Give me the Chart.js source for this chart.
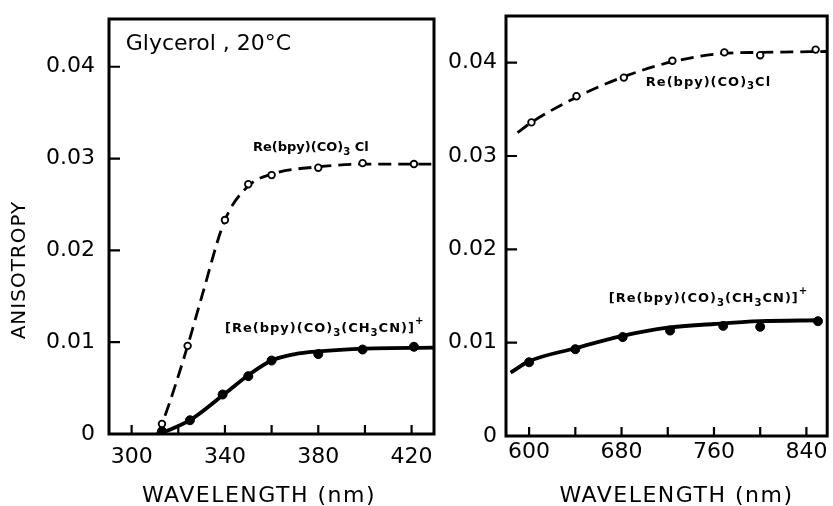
<!DOCTYPE html>
<html>
<head>
<meta charset="utf-8">
<script src="https://cdn.jsdelivr.net/npm/chart.js@4.4.1/dist/chart.umd.min.js"></script>
<style>
  html, body { margin: 0; padding: 0; background: #fff; }
  #wrap { position: relative; width: 833px; height: 506px; }
  #leftBox { position: absolute; left: 0; top: 0; width: 445px; height: 506px; }
  #rightBox { position: absolute; left: 445px; top: 0; width: 388px; height: 506px; }
</style>
</head>
<body>
<div id="wrap">
  <div id="leftBox"><canvas id="leftChart"></canvas></div>
  <div id="rightBox"><canvas id="rightChart"></canvas></div>
</div>
<script>
// ---- axis ticks ----
const uvTicks = [300, 320, 340, 360, 380, 400, 420];
const uvTickLabels = ["300", "", "340", "", "380", "", "420"];
const redTicks = [600, 640, 680, 720, 760, 800, 840];
const redTickLabels = ["600", "", "680", "", "760", "", "840"];
const anisoTicks = [0, 0.01, 0.02, 0.03, 0.04];
const anisoTickLabels = ["0", "0.01", "0.02", "0.03", "0.04"];

// ---- left panel (UV excitation), Re(bpy)(CO)3Cl, open circles ----
const uvClWl = [313, 324, 340, 350, 360, 380, 399, 421];
const uvClAniso = [0.0011, 0.0096, 0.0233, 0.0272, 0.0282, 0.0290, 0.0295, 0.0294];
// dashed fit curve
const uvClCurveWl = [311, 313, 324, 330, 340, 350, 360, 380, 400, 430];
const uvClCurve = [0, 0.0011, 0.0096, 0.0149, 0.0233, 0.0270, 0.0283, 0.0291, 0.0294, 0.0294];

// ---- left panel, [Re(bpy)(CO)3(CH3CN)]+, filled circles ----
const uvCnWl = [313, 325, 339, 350, 360, 380, 399, 421];
const uvCnAniso = [0.0003, 0.0015, 0.0043, 0.0063, 0.0080, 0.0087, 0.0092, 0.0095];
const uvCnCurveWl = [312, 325, 340, 350, 360, 370, 380, 400, 430];
const uvCnCurve = [0, 0.0015, 0.0044, 0.0064, 0.0080, 0.0087, 0.0090, 0.0093, 0.0094];

// ---- right panel (red edge), Re(bpy)(CO)3Cl ----
const redClWl = [602, 641, 682, 724, 769, 800, 848];
const redClAniso = [0.0336, 0.0364, 0.0384, 0.0402, 0.0411, 0.0408, 0.0414];
const redClCurveWl = [590, 602, 641, 682, 724, 769, 800, 858];
const redClCurve = [0.0325, 0.0336, 0.0363, 0.0385, 0.0401, 0.0410, 0.0411, 0.0412];

// ---- right panel, [Re(bpy)(CO)3(CH3CN)]+ ----
const redCnWl = [600, 640, 681, 722, 768, 800, 850];
const redCnAniso = [0.0079, 0.0093, 0.0106, 0.0113, 0.0118, 0.0117, 0.0123];
const redCnCurveWl = [584, 600, 640, 680, 720, 760, 800, 850];
const redCnCurve = [0.0068, 0.0080, 0.0094, 0.0107, 0.0116, 0.0120, 0.0123, 0.0124];

const FONT = "'DejaVu Sans', sans-serif";
const pts = (xs, ys) => xs.map((x, i) => ({ x: x, y: ys[i] }));

// frame, inward tick marks, axis titles and the labels on the curves
const decorPlugin = {
  id: "decor",
  afterDraw(chart, args, opts) {
    const { ctx, chartArea: a, scales } = chart;
    ctx.save();
    ctx.strokeStyle = "#000";
    ctx.fillStyle = "#000";
    ctx.lineWidth = 3;
    ctx.strokeRect(a.left, a.top, a.right - a.left, a.bottom - a.top);

    ctx.lineWidth = 2.2;
    ctx.beginPath();
    scales.x.ticks.forEach(t => {
      const px = scales.x.getPixelForValue(t.value);
      ctx.moveTo(px, a.bottom);
      ctx.lineTo(px, a.bottom - 9);
    });
    scales.y.ticks.forEach(t => {
      const py = scales.y.getPixelForValue(t.value);
      ctx.moveTo(a.left, py);
      ctx.lineTo(a.left + 11, py);
    });
    ctx.stroke();

    ctx.textBaseline = "middle";
    (opts.titles || []).forEach(t => {
      ctx.save();
      ctx.font = `${t.size}px ${FONT}`;
      ctx.letterSpacing = t.spacing + "px";
      ctx.textAlign = "center";
      ctx.translate(t.x, t.y);
      ctx.rotate(t.rotate || 0);
      ctx.fillText(t.text, 0, 0);
      ctx.restore();
    });

    (opts.notes || []).forEach(n => {
      let cx = scales.x.getPixelForValue(n.x);
      const cy = scales.y.getPixelForValue(n.y);
      ctx.textAlign = "left";
      n.parts.forEach(p => {
        const kind = p[1] || "";
        const fs = kind ? n.size * 0.78 : n.size;
        const dy = kind === "sub" ? n.size * 0.35 : kind === "sup" ? -n.size * 0.55 : 0;
        ctx.font = `${n.weight} ${fs}px ${FONT}`;
        ctx.letterSpacing = n.spacing + "px";
        ctx.fillText(p[0], cx, cy + dy);
        cx += ctx.measureText(p[0]).width;
      });
    });
    ctx.restore();
  }
};

function lineSet(xs, ys, dashed) {
  return {
    data: pts(xs, ys),
    showLine: true,
    borderColor: "#000",
    borderWidth: dashed ? 2.8 : 3.8,
    borderDash: dashed ? [13, 7] : [],
    pointRadius: 0,
    cubicInterpolationMode: "monotone",
    order: 2
  };
}

function markerSet(xs, ys, open) {
  return {
    data: pts(xs, ys),
    showLine: false,
    pointStyle: "circle",
    pointRadius: open ? 3.3 : 4.5,
    pointBorderWidth: open ? 1.8 : 1,
    pointBorderColor: "#000",
    pointBackgroundColor: open ? "#fff" : "#000",
    order: 1
  };
}

function makeChart(id, cfg) {
  return new Chart(document.getElementById(id), {
    type: "scatter",
    data: { datasets: cfg.datasets },
    options: {
      responsive: true,
      maintainAspectRatio: false,
      animation: false,
      devicePixelRatio: 1,
      events: [],
      layout: { padding: cfg.padding },
      plugins: {
        legend: { display: false },
        tooltip: { enabled: false },
        decor: { titles: cfg.titles, notes: cfg.notes }
      },
      scales: {
        x: {
          type: "linear",
          min: cfg.xMin,
          max: cfg.xMax,
          grid: { display: false, drawTicks: false },
          border: { display: false },
          afterBuildTicks: s => { s.ticks = cfg.xTicks.map(v => ({ value: v })); },
          ticks: {
            autoSkip: false,
            maxRotation: 0,
            color: "#000",
            padding: cfg.xLabelPad,
            font: { family: FONT, size: 22 },
            callback: (v, i) => cfg.xTickLabels[i]
          },
          afterFit: s => {
            s.height = cfg.xAxisHeight;
            s.paddingLeft = s.paddingRight = s.paddingTop = s.paddingBottom = 0;
          }
        },
        y: {
          type: "linear",
          min: 0,
          max: cfg.yMax,
          grid: { display: false, drawTicks: false },
          border: { display: false },
          afterBuildTicks: s => { s.ticks = anisoTicks.map(v => ({ value: v })); },
          ticks: {
            color: "#000",
            padding: cfg.yLabelPad,
            font: { family: FONT, size: 22 },
            callback: (v, i) => anisoTickLabels[i]
          },
          afterFit: s => {
            s.width = cfg.yAxisWidth;
            s.paddingLeft = s.paddingRight = s.paddingTop = s.paddingBottom = 0;
          }
        }
      }
    },
    plugins: [decorPlugin]
  });
}

const cnParts = [["[Re(bpy)(CO)"], ["3", "sub"], ["(CH"], ["3", "sub"], ["CN)]"], ["+", "sup"]];

makeChart("leftChart", {
  xMin: 290.3, xMax: 429.6, yMax: 0.0452,
  xTicks: uvTicks, xTickLabels: uvTickLabels,
  padding: { left: 0, top: 19, right: 11, bottom: 0 },
  yAxisWidth: 109, xAxisHeight: 72, xLabelPad: 10, yLabelPad: 14,
  datasets: [
    markerSet(uvClWl, uvClAniso, true),
    markerSet(uvCnWl, uvCnAniso, false),
    lineSet(uvClCurveWl, uvClCurve, true),
    lineSet(uvCnCurveWl, uvCnCurve, false)
  ],
  titles: [
    { text: "WAVELENGTH (nm)", x: 259, y: 496, size: 22, spacing: 1.5 },
    { text: "ANISOTROPY", x: 20, y: 270, size: 20, spacing: 1, rotate: -Math.PI / 2 }
  ],
  notes: [
    { x: 297.5, y: 0.0425, size: 22, weight: "normal", spacing: 0, parts: [["Glycerol , 20°C"]] },
    { x: 352, y: 0.0312, size: 13, weight: "bold", spacing: 0, parts: [["Re(bpy)(CO)"], ["3", "sub"], [" Cl"]] },
    { x: 340, y: 0.0115, size: 13, weight: "bold", spacing: 1, parts: cnParts }
  ]
});

makeChart("rightChart", {
  xMin: 580, xMax: 858, yMax: 0.045,
  xTicks: redTicks, xTickLabels: redTickLabels,
  padding: { left: 0, top: 16, right: 3, bottom: 0 },
  yAxisWidth: 61, xAxisHeight: 70, xLabelPad: 3, yLabelPad: 9,
  datasets: [
    markerSet(redClWl, redClAniso, true),
    markerSet(redCnWl, redCnAniso, false),
    lineSet(redClCurveWl, redClCurve, true),
    lineSet(redCnCurveWl, redCnCurve, false)
  ],
  titles: [
    { text: "WAVELENGTH (nm)", x: 231.5, y: 496, size: 22, spacing: 1.5 }
  ],
  notes: [
    { x: 701, y: 0.0379, size: 13, weight: "bold", spacing: 1, parts: [["Re(bpy)(CO)"], ["3", "sub"], ["Cl"]] },
    { x: 669, y: 0.0147, size: 13, weight: "bold", spacing: 1, parts: cnParts }
  ]
});
</script>
</body>
</html>
